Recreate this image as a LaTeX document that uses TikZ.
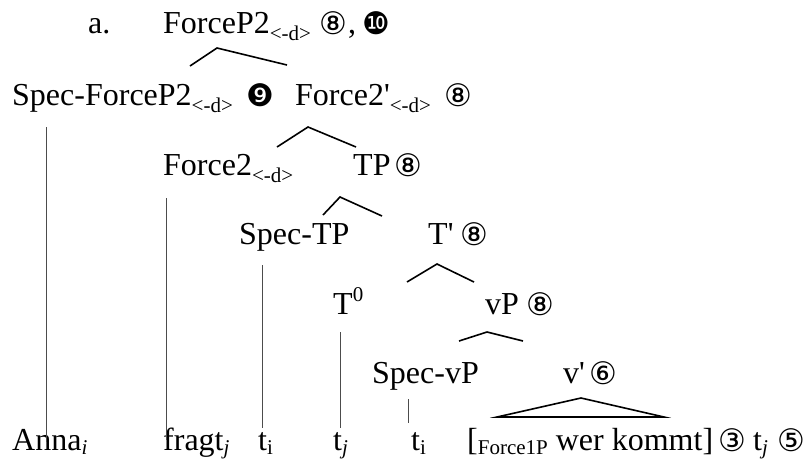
\documentclass[tikz,border=0pt]{standalone}
\usepackage{fontspec}
\setmainfont{Liberation Serif}[Ligatures=TeXOff]
\newfontfamily\dvs{DejaVu Sans}
\newcommand\cnum[1]{{\fontsize{31}{31}\dvs #1}}
\newcommand\sbs[2][7pt]{\raisebox{-#1}{\fontsize{21}{21}\selectfont #2}}
\newcommand\sps[1]{\raisebox{13pt}{\fontsize{21}{21}\selectfont #1}}
\begin{document}
\begin{tikzpicture}[x=1pt,y=-1pt,
  lbl/.style={anchor=base west, inner sep=0pt, font=\fontsize{32}{32}\selectfont},
  cn/.style={anchor=base west, inner sep=0pt, xshift=-2.5pt, yshift=-1pt},
  br/.style={line width=1.6pt, line join=miter},
  vl/.style={line width=0.9pt, black!70}]
\useasboundingbox (0,0) rectangle (805,459);
% row 1
\node[lbl] (a) at (88,33) {a.};
\node[lbl] (fp2) at (163,33) {ForceP2\sbs{<-d>}};
\node[cn] (n1) at (322,33) {\cnum{⑧}};
\node[lbl] (cm) at (348,33) {,};
\node[cn] (n2) at (365,33) {\cnum{❿}};
% row 2
\node[lbl] (sfp2) at (12,105) {Spec-ForceP2\sbs{<-d>}};
\node[cn] (n3) at (249,105) {\cnum{❾}};
\node[lbl] (f2b) at (295,105) {Force2'\sbs{<-d>}};
\node[cn] (n4) at (447,105) {\cnum{⑧}};
% row 3
\node[lbl] (f2) at (163,175) {Force2\sbs{<-d>}};
\node[lbl] (tp) at (353,175) {TP};
\node[cn] (n5) at (397,175) {\cnum{⑧}};
% row 4
\node[lbl] (stp) at (239,244) {Spec-TP};
\node[lbl] (tb) at (428,244) {T'};
\node[cn] (n6) at (463,244) {\cnum{⑧}};
% row 5
\node[lbl] (t0) at (333,314) {T\sps{0}};
\node[lbl] (vp) at (485,314) {vP};
\node[cn] (n7) at (529,314) {\cnum{⑧}};
% row 6
\node[lbl] (svp) at (372,383) {Spec-vP};
\node[lbl] (vb) at (563,383) {v'};
\node[cn] (n8) at (592,383) {\cnum{⑥}};
% row 7
\node[lbl] (anna) at (12,450) {Anna\sbs[4pt]{\textit{i}}};
\node[lbl] (fragt) at (163,450) {fragt\sbs[4pt]{\textit{j}}};
\node[lbl] (ti1) at (258,450) {t\sbs[4pt]{i}};
\node[lbl] (tj1) at (333,450) {t\sbs[4pt]{\textit{j}}};
\node[lbl] (ti2) at (411,450) {t\sbs[4pt]{i}};
\node[lbl] (vpc) at (467,450) {[\sbs[4pt]{Force1P} wer kommt]};
\node[cn] (n9) at (721,450) {\cnum{③}};
\node[lbl] (tj2) at (753,450) {t\sbs[4pt]{\textit{j}}};
\node[cn] (n10) at (780,450) {\cnum{⑤}};
% branch points
\coordinate (b1l) at (190,66); \coordinate (b1t) at (217,48); \coordinate (b1r) at (287,65);
\coordinate (b2l) at (277,147); \coordinate (b2t) at (308,127); \coordinate (b2r) at (356,147);
\coordinate (b3l) at (323,215); \coordinate (b3t) at (340,197); \coordinate (b3r) at (382,216);
\coordinate (b4l) at (407,282); \coordinate (b4t) at (437,264); \coordinate (b4r) at (474,282);
\coordinate (b5l) at (459,341); \coordinate (b5t) at (487,332); \coordinate (b5r) at (523,341);
\coordinate (trl) at (497,417); \coordinate (trt) at (581,398); \coordinate (trr) at (664,417);
\draw[br] (b1l) -- (b1t) -- (b1r);
\draw[br] (b2l) -- (b2t) -- (b2r);
\draw[br] (b3l) -- (b3t) -- (b3r);
\draw[br] (b4l) -- (b4t) -- (b4r);
\draw[br] (b5l) -- (b5t) -- (b5r);
\draw[br] (trl) -- (trt) -- (trr) -- cycle;
% vertical lines
\coordinate (v1a) at (46,127); \coordinate (v1b) at (46,442);
\coordinate (v2a) at (166,198); \coordinate (v2b) at (166,440);
\coordinate (v3a) at (262,265); \coordinate (v3b) at (262,428);
\coordinate (v4a) at (340,332); \coordinate (v4b) at (340,428);
\coordinate (v5a) at (408,399); \coordinate (v5b) at (408,423);
\draw[vl] (v1a) -- (v1b);
\draw[vl] (v2a) -- (v2b);
\draw[vl] (v3a) -- (v3b);
\draw[vl] (v4a) -- (v4b);
\draw[vl] (v5a) -- (v5b);
\end{tikzpicture}
\end{document}
